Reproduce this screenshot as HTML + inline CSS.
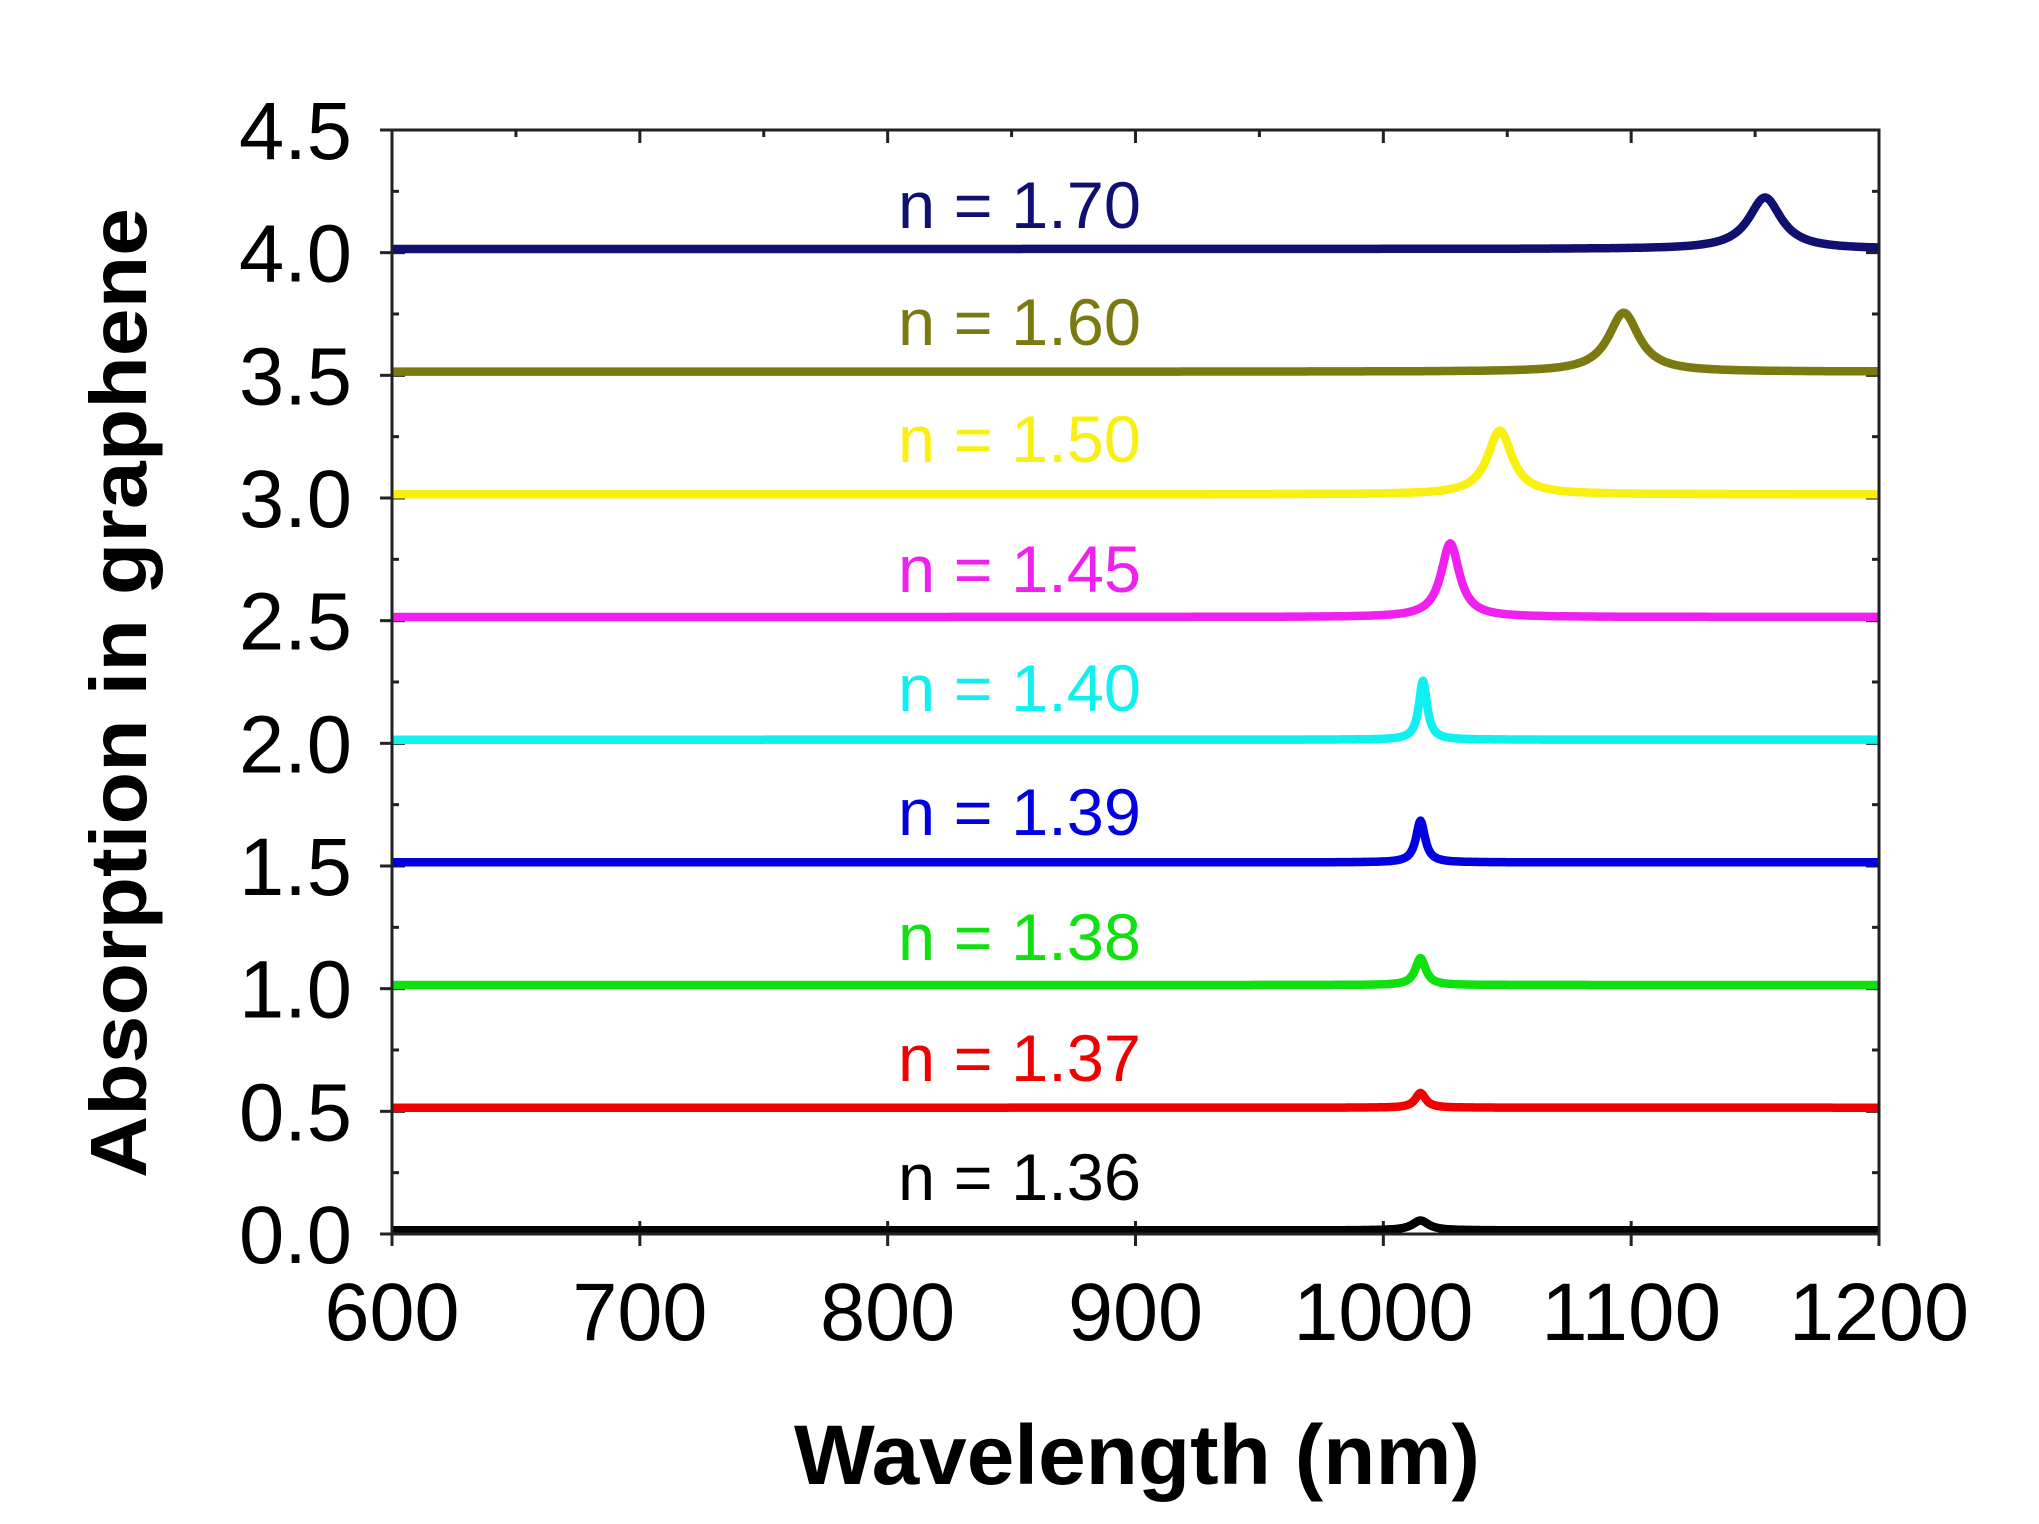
<!DOCTYPE html>
<html><head><meta charset="utf-8"><style>html,body{margin:0;padding:0;background:#fff}svg{display:block}</style></head>
<body>
<svg id="s" width="2039" height="1524" viewBox="0 0 2039 1524" xmlns="http://www.w3.org/2000/svg" font-family="Liberation Sans, sans-serif">
<g id="ticks"></g>
<g id="series"></g>
<rect x="392" y="130" width="1487" height="1104" fill="none" stroke="#222" stroke-width="3"/>
<g id="labels"></g>
<text x="1137" y="1484" font-size="84" font-weight="bold" text-anchor="middle" textLength="686" lengthAdjust="spacingAndGlyphs">Wavelength (nm)</text>
<text transform="translate(146,693) rotate(-90)" font-size="80" font-weight="bold" text-anchor="middle" textLength="970" lengthAdjust="spacingAndGlyphs">Absorption in graphene</text>
</svg>
<script>
var L=392,R=1879,T=130,B=1234;
function X(w){return L+(w-600)*(R-L)/600;}
function Y(v){return B-v*(B-T)/4.5;}
var s="";
for(var v=0;v<=4.5001;v+=0.25){var maj=Math.abs(v*2-Math.round(v*2))<1e-6,len=maj?13:7,y=Y(v);
s+='<line x1="'+L+'" x2="'+(L+len)+'" y1="'+y+'" y2="'+y+'" stroke="#222" stroke-width="3"/>';
s+='<line x1="'+R+'" x2="'+(R-len)+'" y1="'+y+'" y2="'+y+'" stroke="#222" stroke-width="3"/>';
if(maj){s+='<text x="'+(L-40)+'" y="'+(y+29)+'" font-size="82" text-anchor="end" textLength="113" lengthAdjust="spacingAndGlyphs">'+v.toFixed(1)+'</text>';
s+='<line x1="'+(L-12)+'" x2="'+L+'" y1="'+y+'" y2="'+y+'" stroke="#222" stroke-width="3"/>';}}
for(var w=600;w<=1200;w+=50){var maj=w%100==0,len=maj?13:7,x=X(w);
s+='<line x1="'+x+'" x2="'+x+'" y1="'+B+'" y2="'+(B-len)+'" stroke="#222" stroke-width="3"/>';
s+='<line x1="'+x+'" x2="'+x+'" y1="'+T+'" y2="'+(T+len)+'" stroke="#222" stroke-width="3"/>';
if(maj){s+='<line x1="'+x+'" x2="'+x+'" y1="'+B+'" y2="'+(B+12)+'" stroke="#222" stroke-width="3"/>';
var tl=(w>=1000)?180:135;
s+='<text x="'+x+'" y="1340" font-size="82" text-anchor="middle" textLength="'+tl+'" lengthAdjust="spacingAndGlyphs">'+w+'</text>';}}
document.getElementById("ticks").innerHTML=s;
var S=[["#000000",1015,0.04,4,"1.36",1200],["#f00000",1015,0.06,2.5,"1.37",1081],["#10e010",1015,0.11,2.5,"1.38",960],["#0000e0",1015,0.17,2.2,"1.39",835],["#10f0f0",1016,0.24,2,"1.40",711],["#f020f0",1027,0.30,4.5,"1.45",592],["#f8f010",1047,0.26,6,"1.50",462],["#7a7a10",1097,0.24,7.5,"1.60",345],["#101070",1154,0.21,8,"1.70",228]];
var p="",t="";
S.forEach(function(a,k){var base=0.5*k+0.015,d="";
for(var w=600;w<=1200;w+=0.5){var u=(w-a[1])/a[3];var v=base+a[2]/(1+u*u);d+=(w==600?"M":"L")+X(w).toFixed(1)+","+Y(v).toFixed(1);}
p+='<path d="'+d+'" fill="none" stroke="'+a[0]+'" stroke-width="8.5" stroke-linejoin="round"/>';
t+='<text x="898" y="'+a[5]+'" font-size="66" fill="'+a[0]+'" textLength="243" lengthAdjust="spacingAndGlyphs">n = '+a[4]+'</text>';});
document.getElementById("series").innerHTML=p;document.getElementById("labels").innerHTML=t;
</script>
</body></html>
